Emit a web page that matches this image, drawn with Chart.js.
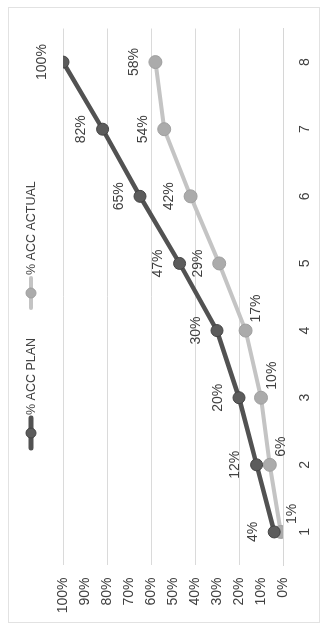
<!DOCTYPE html>
<html>
<head>
<meta charset="utf-8">
<script src="https://cdn.jsdelivr.net/npm/chart.js@4/dist/chart.umd.min.js"></script>
<style>
  html, body { margin: 0; padding: 0; background: #ffffff; width: 326px; height: 630px; overflow: hidden; }
  #wrap { position: absolute; left: 0; top: 0; width: 630px; height: 326px;
          transform-origin: 0 0; transform: translateY(630px) rotate(-90deg); }
</style>
</head>
<body>
<div id="wrap"><canvas id="c" width="630" height="326"></canvas></div>
<script>
// ---- data ----
const categories = ['1', '2', '3', '4', '5', '6', '7', '8'];
const planValues = [4, 12, 20, 30, 47, 65, 82, 100];
const actualValues = [1, 6, 10, 17, 29, 42, 54, 58];
const seriesNames = ['% ACC PLAN', '% ACC ACTUAL'];
// label placement per point (style only): 'top' or 'right'
const planLabelPos = ['top', 'top', 'top', 'top', 'top', 'top', 'top', 'top'];
const actualLabelPos = ['right', 'right', 'right', 'right', 'top', 'top', 'top', 'top'];

const FONT = "'Liberation Sans', Arial, sans-serif";
const PLAN_LINE = '#525252', PLAN_PT = '#5c5c5c', PLAN_BORDER = '#444444';
const ACT_LINE = '#c4c4c4', ACT_PT = '#ababab', ACT_BORDER = '#a0a0a0';
const TEXT = '#404040';

const framePlugin = {
  id: 'frame',
  beforeDraw(chart) {
    const ctx = chart.ctx;
    ctx.save();
    ctx.fillStyle = '#ffffff';
    ctx.fillRect(0, 0, chart.width, chart.height);
    ctx.strokeStyle = '#e2e2e2';
    ctx.lineWidth = 1;
    ctx.strokeRect(7.5, 8.5, 615, 311);
    ctx.restore();
  }
};

const labelPlugin = {
  id: 'labels',
  afterDatasetsDraw(chart) {
    const ctx = chart.ctx;
    ctx.save();
    ctx.font = "14px " + FONT;
    ctx.fillStyle = TEXT;
    chart.data.datasets.forEach((ds, di) => {
      const meta = chart.getDatasetMeta(di);
      const posArr = di === 0 ? planLabelPos : actualLabelPos;
      meta.data.forEach((pt, i) => {
        const txt = ds.data[i] + '%';
        if (posArr[i] === 'top') {
          ctx.textAlign = 'center';
          ctx.textBaseline = 'middle';
          ctx.fillText(txt, pt.x, pt.y - 21);
        } else {
          ctx.textAlign = 'left';
          ctx.textBaseline = 'middle';
          ctx.fillText(txt, pt.x + 8, pt.y + 11);
        }
      });
    });
    ctx.restore();
  }
};

const legendPlugin = {
  id: 'customLegend',
  afterDraw(chart) {
    const ctx = chart.ctx;
    ctx.save();
    const y = 31;
    const items = [
      { name: seriesNames[0], line: PLAN_LINE, pt: PLAN_PT, bd: PLAN_BORDER, lw: 5, x: 182 },
      { name: seriesNames[1], line: ACT_LINE, pt: ACT_PT, bd: ACT_BORDER, lw: 4, x: 322 }
    ];
    ctx.font = "12.5px " + FONT;
    items.forEach(it => {
      ctx.strokeStyle = it.line;
      ctx.lineWidth = it.lw;
      ctx.lineCap = 'round';
      ctx.beginPath();
      ctx.moveTo(it.x, y);
      ctx.lineTo(it.x + 30, y);
      ctx.stroke();
      ctx.beginPath();
      ctx.arc(it.x + 15, y, 5, 0, Math.PI * 2);
      ctx.fillStyle = it.pt;
      ctx.fill();
      ctx.lineWidth = 1;
      ctx.strokeStyle = it.bd;
      ctx.stroke();
      ctx.fillStyle = TEXT;
      ctx.textAlign = 'left';
      ctx.textBaseline = 'middle';
      ctx.fillText(it.name, it.x + 33, y + 1);
    });
    ctx.restore();
  }
};

new Chart(document.getElementById('c'), {
  type: 'line',
  data: {
    labels: categories,
    datasets: [
      {
        label: seriesNames[0], data: planValues,
        borderColor: PLAN_LINE, borderWidth: 4.5,
        pointRadius: 6, pointBackgroundColor: PLAN_PT, pointBorderColor: PLAN_BORDER, pointBorderWidth: 1,
        tension: 0
      },
      {
        label: seriesNames[1], data: actualValues,
        borderColor: ACT_LINE, borderWidth: 4,
        pointRadius: 6.5, pointBackgroundColor: ACT_PT, pointBorderColor: ACT_BORDER, pointBorderWidth: 1,
        tension: 0
      }
    ]
  },
  options: {
    responsive: false,
    animation: false,
    devicePixelRatio: 1,
    layout: { padding: { left: 10, right: 28.5, top: 63, bottom: 13 } },
    plugins: { legend: { display: false }, tooltip: { enabled: false } },
    scales: {
      x: {
        offset: true,
        grid: { display: false, drawTicks: false },
        border: { display: true, color: '#d6d6d6', width: 1 },
        ticks: { color: TEXT, font: { family: FONT, size: 14 }, padding: 14, maxRotation: 0 },
        afterFit(s) { s.height = 30; }
      },
      y: {
        min: 0, max: 100,
        grid: {
          drawTicks: false,
          color: (c) => (Math.round(c.tick.value) % 20 === 0 ? '#dadada' : 'rgba(0,0,0,0)'),
          lineWidth: 1
        },
        border: { display: false },
        ticks: { stepSize: 10, color: TEXT, font: { family: FONT, size: 14 }, padding: 12,
                 callback: (v) => v + '%' },
        afterFit(s) { s.width = 54.5; }
      }
    }
  },
  plugins: [framePlugin, labelPlugin, legendPlugin]
});
</script>
</body>
</html>
